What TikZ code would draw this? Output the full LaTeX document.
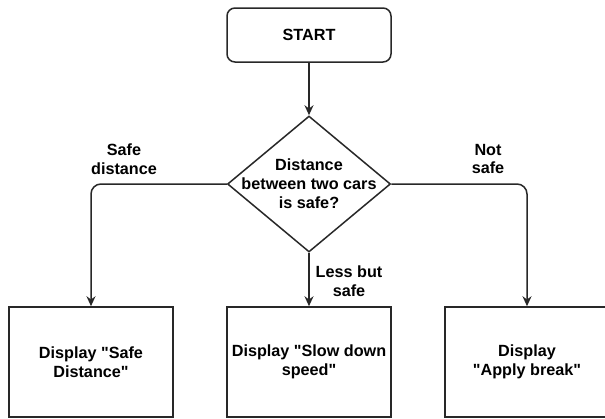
\documentclass[tikz,border=0pt]{standalone}
\usepackage{fontspec}
\setmainfont{Liberation Sans}
\usetikzlibrary{shapes.geometric,arrows.meta}
\definecolor{linecol}{RGB}{40,40,40}

\begin{document}
\begin{tikzpicture}[x=1pt,y=-1pt,font=\fontsize{16.2}{18.8}\selectfont\bfseries,
  startbox/.style={draw=linecol,line width=1.5pt,rounded corners=8pt,minimum width=164pt,minimum height=54pt},
  outbox/.style={draw=linecol,line width=1.5pt,minimum width=164pt,minimum height=110pt,align=center},
  decision/.style={draw=linecol,line width=1.5pt,diamond,aspect=1.2,minimum width=163pt,minimum height=136pt,inner sep=0pt},
  lbl/.style={align=center,inner sep=0pt},
  flow/.style={draw=linecol,line width=1.5pt,-{Stealth[length=10pt,width=9pt]},rounded corners=10pt}]
\useasboundingbox (0,0) rectangle (605,418);

\node[startbox] (start) at (309,35) {START};

\node[decision] (dec) at (309,184) {};
\node[lbl] (dectxt) at (309,184) {Distance\\between two cars\\is safe?};

\node[outbox] (safe) at (91,362) {Display \textquotedbl Safe\\Distance\textquotedbl};
\node[outbox] (slow) at (309,362) {Display \textquotedbl Slow down\\speed\textquotedbl};
\node[outbox] (brake) at (527,362) {Display\\\textquotedbl Apply break\textquotedbl};

% branch labels
\node[lbl] (lsafe) at (124,159) {Safe\\distance};
\node[lbl] (lnot) at (488,159) {Not\\safe};
\node[lbl] (lless) at (349,281) {Less but\\safe};

\draw[flow] (start) -- (dec);
\draw[flow] (dec.west) -| (safe.north);
\draw[flow] (dec) -- (slow);
\draw[flow] (dec.east) -| (brake.north);
\end{tikzpicture}
\end{document}
